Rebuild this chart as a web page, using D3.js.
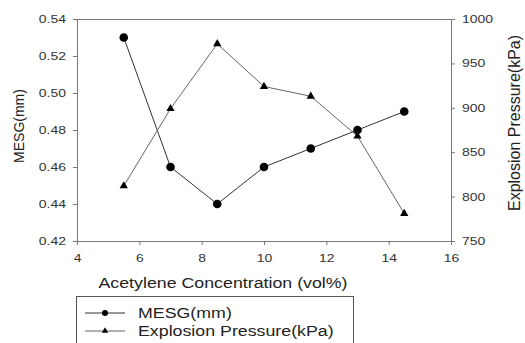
<!DOCTYPE html>
<html>
<head>
<meta charset="utf-8">
<script src="https://cdn.jsdelivr.net/npm/d3@7"></script>
<style>
  body { margin: 0; background: #fff; }
  text { font-family: "Liberation Sans", Arial, sans-serif; }
</style>
</head>
<body>
<div id="chart"></div>
<script>
// data
const concentration = [5.5, 7, 8.5, 10, 11.5, 13, 14.5];
const mesg = [0.53, 0.46, 0.44, 0.46, 0.47, 0.48, 0.49];
const pressure = [812, 899, 972, 924, 913, 868, 781];
const xTicks = [4, 6, 8, 10, 12, 14, 16];
const yLeftTicks = [0.42, 0.44, 0.46, 0.48, 0.50, 0.52, 0.54];
const yRightTicks = [750, 800, 850, 900, 950, 1000];

const width = 525, height = 343;
const plotL = 77, plotR = 451, plotT = 19, plotB = 241;

const svg = d3.select('#chart').append('svg')
  .attr('width', width)
  .attr('height', height);

const x = d3.scaleLinear().domain([4, 16]).range([plotL, plotR]);
const yL = d3.scaleLinear().domain([0.42, 0.54]).range([plotB, plotT]);
const yR = d3.scaleLinear().domain([750, 1000]).range([plotB, plotT]);

// the source picture is a bit wider than tall, so horizontal text is stretched sideways
function stretch(sel, k) {
  sel.each(function() {
    const w = this.getComputedTextLength();
    d3.select(this).attr('textLength', w * k).attr('lengthAdjust', 'spacingAndGlyphs');
  });
}

function styleAxis(g) {
  g.select('.domain').attr('stroke', '#777');
  g.selectAll('.tick line').attr('stroke', '#777');
  g.selectAll('.tick text').attr('fill', '#333').attr('font-size', 11)
    .call(stretch, 1.27);
}

// frame top
svg.append('line')
  .attr('x1', plotL).attr('x2', plotR).attr('y1', plotT + 0.5).attr('y2', plotT + 0.5)
  .attr('stroke', '#777');

svg.append('g')
  .attr('transform', `translate(0,${plotB})`)
  .call(d3.axisBottom(x).tickValues(xTicks).tickSize(4).tickSizeOuter(0).tickPadding(9))
  .call(styleAxis);

svg.append('g')
  .attr('transform', `translate(${plotL},0)`)
  .call(d3.axisLeft(yL).tickValues(yLeftTicks).tickFormat(d3.format('.2f')).tickSize(4).tickSizeOuter(0).tickPadding(7))
  .call(styleAxis);

svg.append('g')
  .attr('transform', `translate(${plotR},0)`)
  .call(d3.axisRight(yR).tickValues(yRightTicks).tickFormat(d3.format('d')).tickSize(4).tickSizeOuter(0).tickPadding(7))
  .call(styleAxis);

// axis titles
svg.append('text')
  .attr('x', 223).attr('y', 288)
  .attr('text-anchor', 'middle').attr('font-size', 14).attr('fill', '#222')
  .text('Acetylene Concentration (vol%)')
  .call(stretch, 1.27);

svg.append('text')
  .attr('transform', `translate(24,126) rotate(-90)`)
  .attr('text-anchor', 'middle').attr('font-size', 14).attr('fill', '#222')
  .text('MESG(mm)');

svg.append('text')
  .attr('transform', `translate(520,123) rotate(-90)`)
  .attr('text-anchor', 'middle').attr('font-size', 16).attr('fill', '#222')
  .text('Explosion Pressure(kPa)');

const tri = d3.symbol().type(d3.symbolTriangle).size(30);

// MESG series
const lineL = d3.line().x((d, i) => x(concentration[i])).y(d => yL(d));
svg.append('path').datum(mesg)
  .attr('d', lineL).attr('fill', 'none').attr('stroke', '#333').attr('stroke-width', 1);

// pressure series
const lineR = d3.line().x((d, i) => x(concentration[i])).y(d => yR(d));
svg.append('path').datum(pressure)
  .attr('d', lineR).attr('fill', 'none').attr('stroke', '#666').attr('stroke-width', 1);

svg.selectAll('circle.m').data(mesg).enter().append('circle')
  .attr('class', 'm')
  .attr('cx', (d, i) => x(concentration[i]))
  .attr('cy', d => yL(d))
  .attr('r', 4.3)
  .attr('fill', '#000');

svg.selectAll('path.p').data(pressure).enter().append('path')
  .attr('class', 'p')
  .attr('d', tri)
  .attr('transform', (d, i) => `translate(${x(concentration[i])},${yR(d)})`)
  .attr('fill', '#000');

// legend
svg.append('rect')
  .attr('x', 76.5).attr('y', 296.5).attr('width', 277).attr('height', 60)
  .attr('fill', 'none').attr('stroke', '#555');

const legend = [
  {name: 'MESG(mm)', y: 313, stroke: '#333', shape: 'circle'},
  {name: 'Explosion Pressure(kPa)', y: 331, stroke: '#666', shape: 'tri'}
];
legend.forEach(l => {
  svg.append('line')
    .attr('x1', 85).attr('x2', 125).attr('y1', l.y).attr('y2', l.y)
    .attr('stroke', l.stroke);
  if (l.shape === 'circle') {
    svg.append('circle').attr('cx', 105).attr('cy', l.y).attr('r', 3).attr('fill', '#000');
  } else {
    svg.append('path').attr('d', d3.symbol().type(d3.symbolTriangle).size(18))
      .attr('transform', `translate(105,${l.y})`).attr('fill', '#000');
  }
  svg.append('text')
    .attr('x', 138).attr('y', l.y + 5)
    .attr('font-size', 14).attr('fill', '#222')
    .text(l.name)
    .call(stretch, 1.27);
});
</script>
</body>
</html>
